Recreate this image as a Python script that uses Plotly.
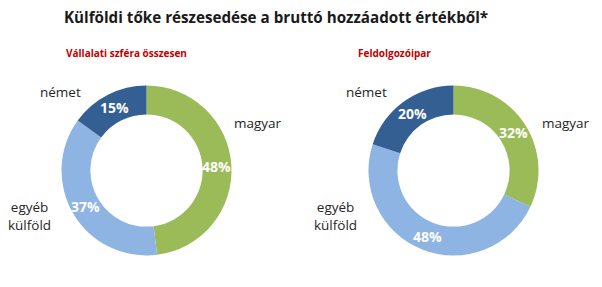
import math
import plotly.graph_objects as go

categories = ["magyar", "egyéb külföld", "német"]
total_values = [48, 37, 15]
manuf_values = [32, 48, 20]
colors = ["#9BBB59", "#8EB4E3", "#335F93"]
title = "Külföldi tőke részesedése a bruttó hozzáadott értékből*"
subtitles = ["Vállalati szféra összesen", "Feldolgozóipar"]

W, H = 602, 287
FONT = "Open Sans"
R = 85
HOLE = 0.66

def dom(cx, cy, r):
    return dict(x=[(cx - r) / W, (cx + r) / W],
                y=[(H - cy - r) / H, (H - cy + r) / H])

fig = go.Figure()
ann = []
for vals, (cx, cy) in [(total_values, (146.5, 170.5)), (manuf_values, (453.5, 170.5))]:
    fig.add_trace(go.Pie(
        labels=categories, values=vals, sort=False, direction="clockwise", rotation=0,
        hole=HOLE, marker=dict(colors=colors, line=dict(color="white", width=0)),
        textinfo="none",
        domain=dom(cx, cy, R), showlegend=False, hoverinfo="label+value"))
    tot = sum(vals)
    cum = 0
    rm = R * (1 + HOLE) / 2
    for v in vals:
        mid = (cum + v / 2) / tot * 2 * math.pi
        cum += v
        px = cx + rm * math.sin(mid)
        py = cy - rm * math.cos(mid)
        ann.append(dict(text=f"<b>{v}%</b>", x=px / W, y=1 - py / H, xref="paper", yref="paper",
                        xanchor="center", yanchor="middle", showarrow=False,
                        font=dict(family=FONT, size=14, color="white")))

ann.append(dict(text=f"<b>{title}</b>", x=276 / W, y=1 - 17 / H, xref="paper", yref="paper",
                xanchor="center", yanchor="middle",
                showarrow=False, font=dict(family=FONT, size=15.2, color="#1a1a1a")))
for t, x in zip(subtitles, [126, 394]):
    ann.append(dict(text=f"<b>{t}</b>", x=x / W, y=1 - 53 / H, xref="paper", yref="paper",
                    xanchor="center", yanchor="middle",
                    showarrow=False, font=dict(family=FONT, size=10, color="#C00000")))
lab_pos = [
    [("német", 60, 92), ("magyar", 258, 123), ("egyéb<br>külföld", 29, 216)],
    [("német", 366, 92), ("magyar", 566, 123), ("egyéb<br>külföld", 335, 216)],
]
for group in lab_pos:
    for t, x, y in group:
        ann.append(dict(text=t, x=x / W, y=1 - y / H, xref="paper", yref="paper", showarrow=False,
                        xanchor="center", yanchor="middle",
                        align="center", font=dict(family=FONT, size=13.5, color="#262626")))

fig.update_layout(width=W, height=H, margin=dict(l=0, r=0, t=0, b=0),
                  paper_bgcolor="white", plot_bgcolor="white", annotations=ann)
fig.write_html("out.html")
